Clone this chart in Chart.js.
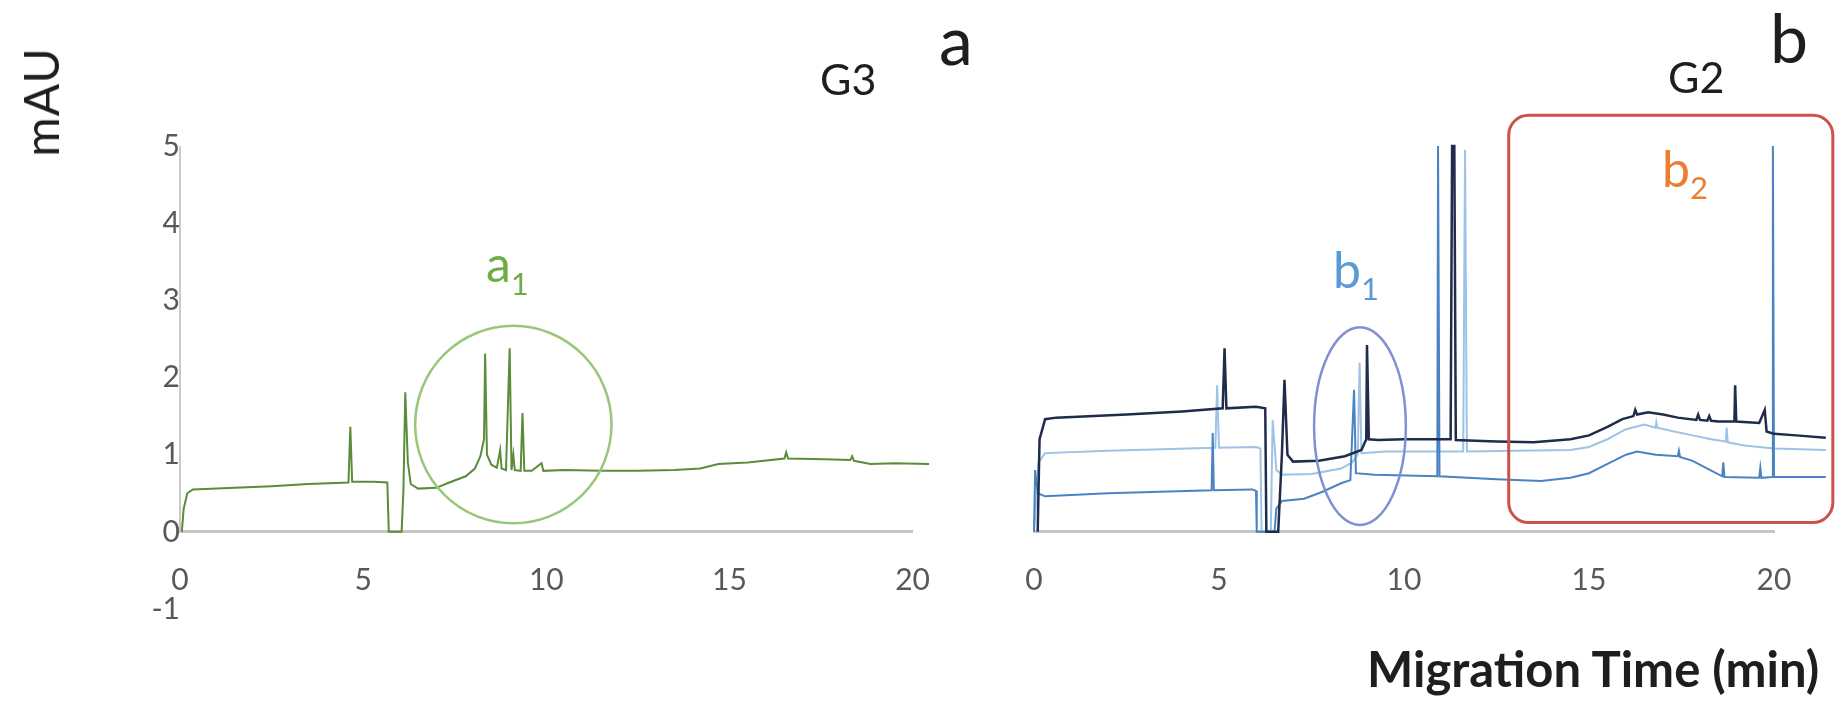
<!DOCTYPE html>
<html>
<head>
<meta charset="utf-8">
<title>G3 / G2 electropherograms</title>
<script src="https://cdn.jsdelivr.net/npm/chart.js@4.4.1/dist/chart.umd.min.js"></script>
<style>
  body { margin: 0; background: #fff; }
  #wrap { position: relative; width: 1839px; height: 702px; overflow: hidden; font-family: Lato, sans-serif; color: #1e1e1e; }
  .panel { position: absolute; top: 0; }
  .lbl { position: absolute; line-height: 1; white-space: nowrap; }
  .sub { position: relative; font-size: 0.62em; }
</style>
</head>
<body>
<div id="wrap">
  <div class="panel" style="left:0"><canvas id="chartG3" width="960" height="702"></canvas></div>
  <div class="panel" style="left:960px"><canvas id="chartG2" width="879" height="702"></canvas></div>

  <div class="lbl" style="left:41px;top:102px;font-size:48px;letter-spacing:1px;transform:translate(-50%,-50%) rotate(-90deg)">mAU</div>
  <div class="lbl" style="left:820px;top:57px;font-size:43px">G3</div>
  <div class="lbl" style="left:939px;top:5px;font-size:68px">a</div>
  <div class="lbl" style="left:1668px;top:55px;font-size:43px">G2</div>
  <div class="lbl" style="left:1770px;top:3px;font-size:68px">b</div>
  <div class="lbl" style="left:486px;top:238px;font-size:50px;color:#70ad47">a<span class="sub" style="top:13px">1</span></div>
  <div class="lbl" style="left:1333px;top:244px;font-size:50px;color:#5b9bd5">b<span class="sub" style="top:12px">1</span></div>
  <div class="lbl" style="left:1662px;top:143px;font-size:50px;color:#ed7d31">b<span class="sub" style="top:12px">2</span></div>
  <div class="lbl" style="left:1367px;top:644px;font-size:49px;font-weight:bold">Migration Time (min)</div>
</div>

<script>
// G3 trace (panel a)
const g3Time = [0.05, 0.1, 0.2, 0.35, 1.0, 1.5, 2.5, 3.5, 4.6, 4.65, 4.7, 5.3, 5.66, 5.7,
  6.05, 6.1, 6.15, 6.22, 6.3, 6.5, 7.0, 7.3, 7.8, 8.05, 8.2, 8.3, 8.33, 8.38, 8.5, 8.65,
  8.74, 8.78, 8.9, 9.0, 9.05, 9.1, 9.14, 9.3, 9.35, 9.4, 9.6, 9.87, 9.92, 10.5, 11.5, 12.5,
  13.5, 14.2, 14.7, 15.5, 16.5, 16.55, 16.6, 17.6, 18.3, 18.35, 18.4, 18.85, 19.5, 20.45];
const g3Mau = [0, 0.3, 0.5, 0.55, 0.56, 0.57, 0.59, 0.62, 0.64, 1.36, 0.65, 0.65, 0.64, 0,
  0, 0.55, 1.81, 0.9, 0.62, 0.56, 0.57, 0.63, 0.72, 0.82, 0.98, 1.2, 2.31, 1.0, 0.87, 0.83,
  1.06, 0.82, 0.8, 2.38, 0.8, 1.0, 0.8, 0.79, 1.54, 0.79, 0.79, 0.89, 0.79, 0.8, 0.79, 0.79,
  0.8, 0.82, 0.88, 0.9, 0.95, 1.03, 0.95, 0.94, 0.93, 0.98, 0.92, 0.88, 0.89, 0.88];

// G2 traces (panel b)
const g2DarkTime = [0.1, 0.15, 0.3, 0.6, 2.5, 4.0, 5.1, 5.15, 5.2, 6.0, 6.25, 6.28, 6.6, 6.7,
  6.77, 6.85, 7.0, 7.7, 8.4, 8.85, 8.98, 9.0, 9.05, 9.3, 10.0, 11.26, 11.3, 11.36, 11.4, 12.5,
  13.5, 14.5, 15.0, 15.5, 15.9, 16.2, 16.25, 16.3, 16.6, 17.0, 17.4, 17.9, 17.95, 18.0, 18.2,
  18.25, 18.3, 18.5, 18.93, 18.95, 18.98, 19.6, 19.75, 19.8, 20.0, 20.6, 21.4];
const g2DarkMau = [0, 1.2, 1.46, 1.48, 1.52, 1.56, 1.6, 2.38, 1.6, 1.62, 1.6, 0, 0, 1.0,
  1.97, 1.0, 0.91, 0.92, 0.98, 1.06, 1.2, 2.42, 1.2, 1.19, 1.2, 1.2, 5, 5, 1.19, 1.17,
  1.16, 1.2, 1.25, 1.36, 1.46, 1.5, 1.58, 1.52, 1.55, 1.52, 1.48, 1.45, 1.52, 1.45, 1.44,
  1.5, 1.44, 1.43, 1.43, 1.9, 1.43, 1.41, 1.58, 1.3, 1.27, 1.25, 1.22];

const g2LightTime = [0.0, 0.12, 0.3, 2.0, 4.9, 4.95, 5.0, 6.0, 6.12, 6.15, 6.4, 6.45, 6.55,
  6.7, 7.5, 8.3, 8.6, 8.75, 8.8, 8.85, 9.5, 11.6, 11.65, 11.7, 13.0, 14.5, 15.0, 15.5, 16.0,
  16.5, 16.8, 16.82, 16.85, 17.3, 17.8, 18.3, 18.7, 18.72, 18.75, 19.2, 20.0, 21.4];
const g2LightMau = [0, 0.9, 1.02, 1.05, 1.09, 1.9, 1.09, 1.1, 1.08, 0, 0, 1.45, 0.8,
  0.74, 0.75, 0.82, 0.9, 1.0, 2.19, 1.02, 1.04, 1.04, 4.95, 1.04, 1.05, 1.06, 1.1, 1.2, 1.33,
  1.39, 1.35, 1.42, 1.35, 1.3, 1.25, 1.2, 1.17, 1.35, 1.16, 1.12, 1.08, 1.06];

const g2MidTime = [0.0, 0.03, 0.1, 0.3, 2.0, 4.8, 4.83, 4.86, 5.9, 6.0, 6.02, 6.5, 6.55,
  6.7, 7.3, 7.8, 8.3, 8.55, 8.65, 8.7, 9.2, 10.9, 10.92, 10.96, 12.5, 13.7, 14.5, 15.0, 15.5,
  16.0, 16.3, 16.8, 17.4, 17.43, 17.46, 17.8, 18.2, 18.6, 18.63, 18.66, 19.6, 19.63, 19.66,
  19.95, 19.97, 20.0, 21.4];
const g2MidMau = [0, 0.8, 0.5, 0.46, 0.5, 0.54, 1.28, 0.54, 0.55, 0.53, 0, 0, 0.3,
  0.4, 0.43, 0.52, 0.63, 0.67, 1.84, 0.76, 0.74, 0.72, 5, 0.72, 0.68, 0.66, 0.7, 0.76, 0.88,
  1.0, 1.04, 1.0, 0.98, 1.05, 0.97, 0.92, 0.82, 0.72, 0.9, 0.71, 0.7, 0.83, 0.7,
  0.71, 5, 0.71, 0.71];

const xTicks = [0, 5, 10, 15, 20];
const yTicks = [-1, 0, 1, 2, 3, 4, 5];

function points(xs, ys) {
    return xs.map((x, i) => ({ x: x, y: ys[i] }));
}

function trace(data, color, width) {
    return {
        data: data,
        showLine: true,
        borderColor: color,
        borderWidth: width,
        pointRadius: 0,
        tension: 0,
        clip: false
    };
}

// vertical axis line, only from 0 up to 5
const axisLinePlugin = {
    id: 'axisLine',
    beforeDatasetsDraw(chart, args, opts) {
        if (!opts.show) return;
        const ctx = chart.ctx;
        const x = chart.scales.x.getPixelForValue(0);
        ctx.save();
        ctx.strokeStyle = '#c9c9c9';
        ctx.lineWidth = 2;
        ctx.beginPath();
        ctx.moveTo(x, chart.scales.y.getPixelForValue(5));
        ctx.lineTo(x, chart.scales.y.getPixelForValue(0));
        ctx.stroke();
        ctx.restore();
    }
};

// circles / boxes marking regions, given in data units
const shapesPlugin = {
    id: 'shapes',
    afterDatasetsDraw(chart, args, opts) {
        const ctx = chart.ctx;
        const xs = chart.scales.x, ys = chart.scales.y;
        (opts.items || []).forEach(s => {
            ctx.save();
            ctx.strokeStyle = s.color;
            ctx.lineWidth = s.width;
            ctx.beginPath();
            if (s.type === 'ellipse') {
                const cx = xs.getPixelForValue(s.x), cy = ys.getPixelForValue(s.y);
                const rx = Math.abs(xs.getPixelForValue(s.x + s.rx) - cx);
                const ry = Math.abs(ys.getPixelForValue(s.y + s.ry) - cy);
                ctx.ellipse(cx, cy, rx, ry, 0, 0, Math.PI * 2);
            } else {
                const x0 = xs.getPixelForValue(s.x0), x1 = xs.getPixelForValue(s.x1);
                const y0 = ys.getPixelForValue(s.y1), y1 = ys.getPixelForValue(s.y0);
                ctx.roundRect(x0, y0, x1 - x0, y1 - y0, s.r);
            }
            ctx.stroke();
            ctx.restore();
        });
    }
};

const tickFont = { family: 'Lato', size: 30 };

function makeOptions(padding, showY, shapes) {
    return {
        responsive: false,
        animation: false,
        layout: { padding: padding },
        plugins: {
            legend: { display: false },
            tooltip: { enabled: false },
            axisLine: { show: showY },
            shapes: { items: shapes }
        },
        scales: {
            x: {
                type: 'linear',
                position: { y: 0 },
                // range set here (not min/max) so points past 20 min are still drawn
                afterDataLimits: axis => { axis.min = 0; axis.max = 20; },
                afterBuildTicks: axis => { axis.ticks = xTicks.map(v => ({ value: v })); },
                grid: { display: false, drawTicks: false },
                border: { color: '#c6c6c6', width: 3 },
                ticks: { autoSkip: false, maxRotation: 0, padding: 30, color: '#595959', font: tickFont }
            },
            y: {
                display: showY,
                min: -1,
                max: 5,
                position: { x: 0 },
                afterBuildTicks: axis => { axis.ticks = yTicks.map(v => ({ value: v })); },
                grid: { display: false, drawTicks: false },
                border: { display: false },
                ticks: { padding: 37, color: '#595959', font: tickFont }
            }
        }
    };
}

new Chart(document.getElementById('chartG3'), {
    type: 'scatter',
    data: {
        datasets: [trace(points(g3Time, g3Mau), '#5b8c3a', 2)]
    },
    options: makeOptions({ left: 180, right: 40, top: 146, bottom: 93 }, true, [
        { type: 'ellipse', x: 9.1, y: 1.39, rx: 2.68, ry: 1.28, color: '#98c77a', width: 2.5 }
    ]),
    plugins: [axisLinePlugin, shapesPlugin]
});

new Chart(document.getElementById('chartG2'), {
    type: 'scatter',
    data: {
        datasets: [
            trace(points(g2DarkTime, g2DarkMau), '#1f2d4a', 2.5),
            trace(points(g2MidTime, g2MidMau), '#4a83c4', 2),
            trace(points(g2LightTime, g2LightMau), '#9dc3e6', 2)
        ]
    },
    options: makeOptions({ left: 74, right: 65, top: 146, bottom: 93 }, false, [
        { type: 'ellipse', x: 8.81, y: 1.37, rx: 1.24, ry: 1.28, color: '#8190d0', width: 2.5 },
        { type: 'rect', x0: 12.83, x1: 21.59, y0: 0.12, y1: 5.40, r: 20, color: '#cd5246', width: 3 }
    ]),
    plugins: [axisLinePlugin, shapesPlugin]
});
</script>
</body>
</html>
